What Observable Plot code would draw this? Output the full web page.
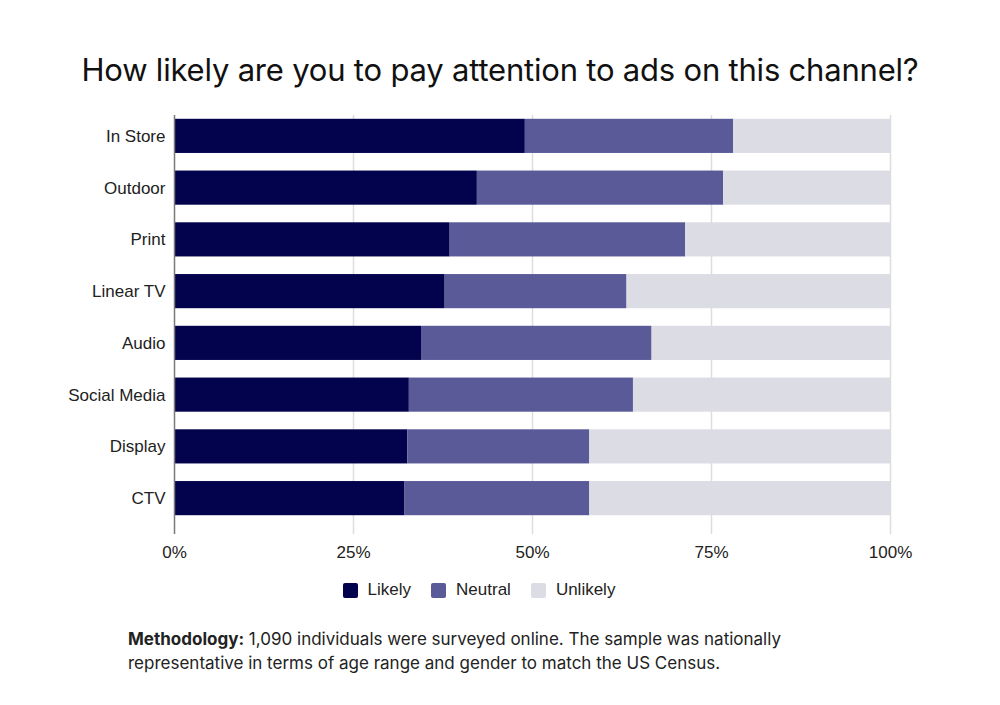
<!DOCTYPE html>
<html>
<head>
<meta charset="utf-8">
<script src="https://cdn.jsdelivr.net/npm/d3@7"></script>
<script src="https://cdn.jsdelivr.net/npm/@observablehq/plot@0.6"></script>
<style>
  html, body { margin: 0; padding: 0; background: #fff; }
  #wrap { position: relative; width: 1000px; height: 705px; overflow: hidden; }
  #title { position: absolute; top: 50px; left: 0; width: 1000px; text-align: center;
    font-family: Inter, "Noto Sans", sans-serif; font-size: 31px; line-height: 40px; color: #111; letter-spacing: -0.2px; }
  #chart { position: absolute; top: 100px; left: 0; }
  #legend { position: absolute; top: 580px; left: 0; width: 958px; display: flex; justify-content: center;
    font-family: "Liberation Sans", Arial, sans-serif; font-size: 17px; color: #222; }
  .item { display: flex; align-items: center; margin: 0 10px; }
  .sw { width: 15px; height: 15px; border-radius: 2px; margin-right: 10px; }
  #note { position: absolute; top: 627px; left: 128px; width: 760px;
    font-family: Inter, "Noto Sans", sans-serif; font-size: 17px; line-height: 24px; color: #222; }
  #note div { white-space: nowrap; }
</style>
</head>
<body>
<div id="wrap">
  <div id="title">How likely are you to pay attention to ads on this channel?</div>
  <div id="chart"></div>
  <div id="legend"></div>
  <div id="note">
    <div><b>Methodology:</b><span> 1,090 individuals were surveyed online. The sample was nationally</span></div>
    <div>representative in terms of age range and gender to match the US Census.</div>
  </div>
</div>
<script>
const categories = ["In Store", "Outdoor", "Print", "Linear TV", "Audio", "Social Media", "Display", "CTV"];
const likely   = [49.0, 42.3, 38.5, 37.8, 34.5, 32.8, 32.6, 32.2];
const neutral  = [29.1, 34.4, 32.9, 25.4, 32.2, 31.3, 25.4, 25.8];
const unlikely = [21.9, 23.3, 28.6, 36.8, 33.3, 35.9, 42.0, 42.0];
const series = ["Likely", "Neutral", "Unlikely"];
const colors = ["#03034d", "#5a5a99", "#dcdce4"];
const xTicks = [0, 25, 50, 75, 100];

const values = [likely, neutral, unlikely];
const data = [];
categories.forEach((c, i) => {
  series.forEach((s, j) => data.push({category: c, series: s, value: values[j][i]}));
});

const chart = Plot.plot({
  width: 1000,
  height: 469,
  marginLeft: 174,
  marginRight: 110,
  marginTop: 15,
  marginBottom: 35,
  style: {fontFamily: "'Liberation Sans', Arial, sans-serif", fontSize: "17px", color: "#222", background: "#fff"},
  x: {domain: [0, 100], label: null},
  y: {domain: categories, range: [10, 424], paddingInner: 0.34, paddingOuter: 0.17, round: false, label: null},
  color: {domain: series, range: colors},
  marks: [
    Plot.ruleX(xTicks.slice(1), {stroke: "#dddddd", strokeWidth: 1.5}),
    Plot.barX(data, Plot.stackX({x: "value", y: "category", fill: "series", order: series})),
    Plot.ruleX([0], {stroke: "#7a7a7a", strokeWidth: 1.5}),
    Plot.axisX({ticks: xTicks, tickFormat: d => d + "%", tickSize: 0, tickPadding: 11, fontSize: 17, label: null}),
    Plot.axisY({tickSize: 0, tickPadding: 9, fontSize: 17, label: null})
  ]
});
document.getElementById("chart").appendChild(chart);

const legend = document.getElementById("legend");
series.forEach((s, j) => {
  const it = document.createElement("div");
  it.className = "item";
  const sw = document.createElement("div");
  sw.className = "sw";
  sw.style.background = colors[j];
  const t = document.createElement("span");
  t.textContent = s;
  it.appendChild(sw);
  it.appendChild(t);
  legend.appendChild(it);
});
</script>
</body>
</html>
